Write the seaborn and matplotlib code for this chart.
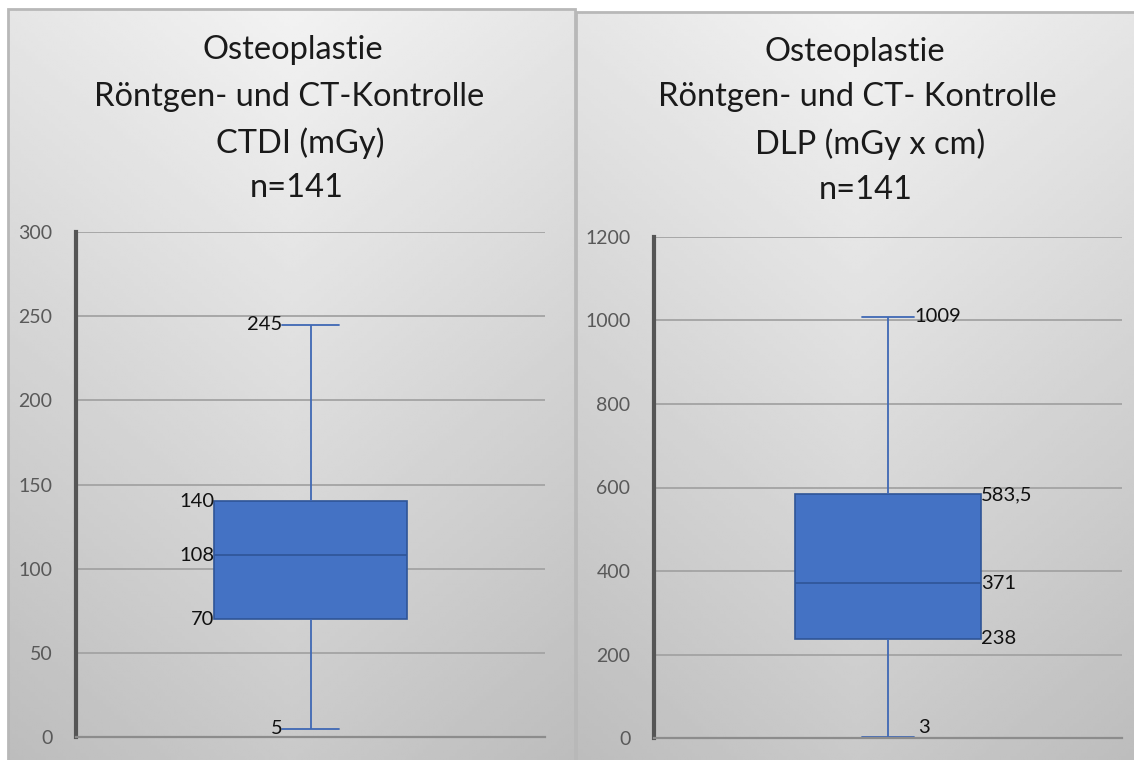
import numpy as np
import pandas as pd
import matplotlib
matplotlib.use("Agg")
import matplotlib.pyplot as plt
from matplotlib.patches import Rectangle
import seaborn as sns

# ---- data (five-number summaries) ----
ctdi_stats = [5, 70, 108, 140, 245]          # min, Q1, median, Q3, max
dlp_stats = [3, 238, 371, 583.5, 1009]       # min, Q1, median, Q3, max
ctdi_labels = ["5", "70", "108", "140", "245"]
dlp_labels = ["3", "238", "371", "583,5", "1009"]
ctdi_ticks = [0, 50, 100, 150, 200, 250, 300]
dlp_ticks = [0, 200, 400, 600, 800, 1000, 1200]
title_left = ["Osteoplastie", "Röntgen- und CT-Kontrolle", "CTDI (mGy)", "n=141"]
title_right = ["Osteoplastie", "Röntgen- und CT- Kontrolle", "DLP (mGy x cm)", "n=141"]

sns.set_style("white")
plt.rcParams["font.family"] = ["Lato", "DejaVu Sans"]

W, H = 1134, 760
fig = plt.figure(figsize=(W / 100, H / 100), dpi=100)
fig.patch.set_facecolor("white")


def px_rect(x0, y0, x1, y1):
    return [x0 / W, 1 - y1 / H, (x1 - x0) / W, (y1 - y0) / H]


def panel_bg(x0, y0, x1, y1):
    bg = fig.add_axes(px_rect(x0, y0, x1, y1), zorder=0)
    ny, nx = 200, 200
    yy, xx = np.mgrid[0:1:complex(0, ny), 0:1:complex(0, nx)]
    val = 0.95 - 0.16 * yy - 0.05 * np.abs(xx - 0.5) * 2
    bg.imshow(val, cmap="gray", vmin=0, vmax=1, aspect="auto",
              extent=[0, 1, 1, 0], interpolation="bilinear")
    bg.set_xlim(0, 1)
    bg.set_ylim(1, 0)
    bg.axis("off")
    bg.add_patch(Rectangle((0, 0), 1, 1, transform=bg.transAxes, fill=False,
                           edgecolor="#b8b8b8", lw=2, clip_on=False))


panel_bg(8, 9, 575, 762)
panel_bg(576, 12, 1136, 762)

FILL = "#4472C4"
EDGE = "#2F5597"


def draw(rect, stats, labels, ticks, width, capw, side):
    ax = fig.add_axes(px_rect(*rect), zorder=2)
    ax.set_facecolor("none")
    df = pd.DataFrame({"v": stats})
    sns.boxplot(data=df, y="v", ax=ax, whis=(0, 100), width=width,
                color=FILL, saturation=1, linewidth=1.0, linecolor=EDGE,
                capwidths=capw,
                boxprops=dict(facecolor=FILL, edgecolor=EDGE, lw=1.2),
                whiskerprops=dict(color="#3f68b4", lw=1.3),
                capprops=dict(color="#3f68b4", lw=1.3),
                medianprops=dict(color=EDGE, lw=1.2))
    ax.set_xlim(-0.5, 0.5)
    ax.set_ylim(ticks[0], ticks[-1])
    ax.set_yticks(ticks)
    ax.set_yticklabels([str(t) for t in ticks])
    ax.set_xticks([])
    ax.set_xlabel("")
    ax.set_ylabel("")
    ax.tick_params(axis="y", length=0, pad=17, labelsize=14, labelcolor="#595959")
    ax.yaxis.grid(True, color="#a3a3a3", lw=1.3)
    ax.set_axisbelow(True)
    for s in ["top", "right"]:
        ax.spines[s].set_visible(False)
    ax.spines["left"].set_color("#555555")
    ax.spines["left"].set_linewidth(3)
    ax.spines["bottom"].set_color("#8c8c8c")
    ax.spines["bottom"].set_linewidth(1.6)

    mn, q1, med, q3, mx = stats
    hb = width / 2
    hc = capw / 2
    fs = 14.5
    kw = dict(fontsize=fs, color="#111111")
    if side == "left":
        ax.annotate(labels[4], (-hc, mx), ha="right", va="center", **kw)
        ax.annotate(labels[0], (-hc, mn), ha="right", va="center", **kw)
        for v, l in [(q1, labels[1]), (med, labels[2]), (q3, labels[3])]:
            ax.annotate(l, (-hb, v), ha="right", va="center", **kw)
    else:
        ax.annotate(labels[4], (hc, mx), ha="left", va="center", **kw)
        ax.annotate(labels[0], (hc, mn), xytext=(3, 7), textcoords="offset points",
                    ha="left", va="center", **kw)
        for v, l in [(q1, labels[1]), (med, labels[2]), (q3, labels[3])]:
            ax.annotate(l, (hb, v), ha="left", va="center", **kw)
    return ax


draw((76, 232, 545, 737), ctdi_stats, ctdi_labels, ctdi_ticks, 0.41, 0.12, "left")
draw((654, 237, 1122, 738), dlp_stats, dlp_labels, dlp_ticks, 0.397, 0.113, "right")

for lines, centers, ys in [
    (title_left, [293, 289, 300, 297], [50, 97, 143, 188]),
    (title_right, [855, 857, 870, 866], [52, 97, 144, 190]),
]:
    for t, cx, cy in zip(lines, centers, ys):
        fig.text(cx / W, 1 - cy / H, t, ha="center", va="center",
                 fontsize=23.5, color="#1a1a1a", zorder=5)

fig.savefig("out.png", dpi=100, facecolor="white")
